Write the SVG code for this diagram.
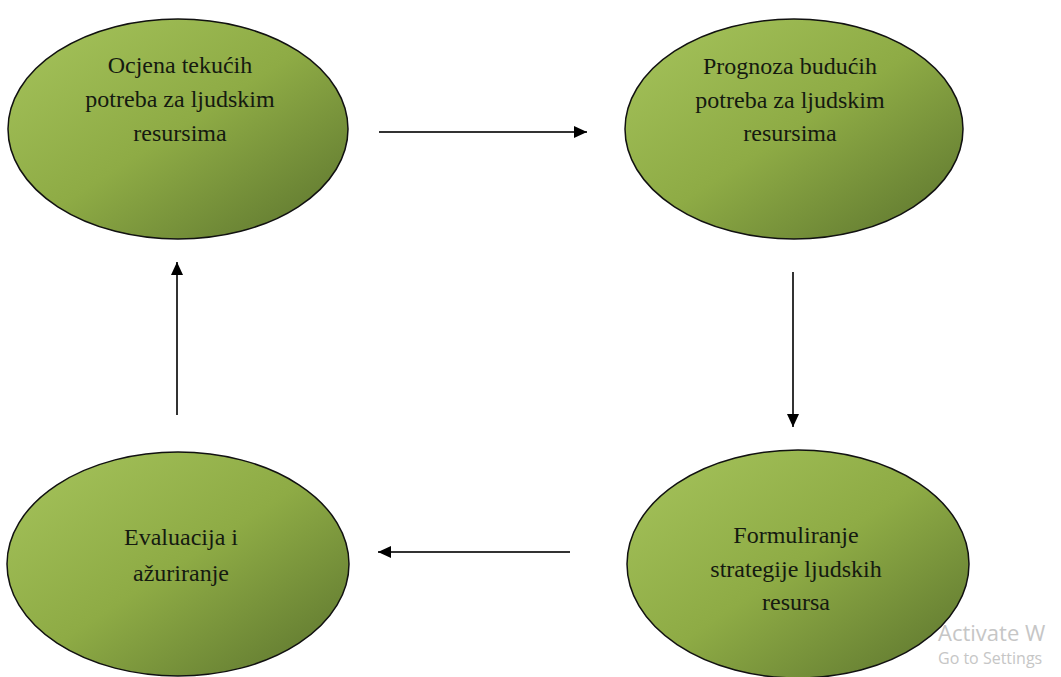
<svg xmlns="http://www.w3.org/2000/svg" width="1061" height="677" viewBox="0 0 1061 677">
<defs>
<linearGradient id="g" x1="0" y1="0" x2="1" y2="1">
<stop offset="0" stop-color="#a6c45c"/>
<stop offset="0.5" stop-color="#8eab45"/>
<stop offset="1" stop-color="#5a722d"/>
</linearGradient>
<marker id="ah" markerWidth="13" markerHeight="12" refX="13" refY="6" orient="auto" markerUnits="userSpaceOnUse">
<path d="M0,0 L13,6 L0,12 Z" fill="#000"/>
</marker>
<style>
.n{fill:url(#g);stroke:#111;stroke-width:1.5}
.t{font-family:"Liberation Serif","Times New Roman",serif;font-size:24px;fill:#151a10;text-anchor:middle}
.c{stroke:#333;stroke-width:2;fill:none;marker-end:url(#ah)}
.w{font-family:"Open Sans","Noto Sans",sans-serif;fill:#c6c6c6}
</style>
</defs>
<rect width="1061" height="677" fill="#fff"/>
<g id="connectors">
<line class="c" x1="379" y1="132" x2="587" y2="132"/>
<line class="c" x1="793" y1="272" x2="793" y2="427"/>
<line class="c" x1="570" y1="552" x2="378" y2="552"/>
<line class="c" x1="177" y1="415" x2="177" y2="262"/>
</g>
<g id="node1">
<ellipse class="n" cx="178" cy="129" rx="170" ry="110"/>
<text class="t" x="180" y="73">Ocjena tekućih</text>
<text class="t" x="180" y="107">potreba za ljudskim</text>
<text class="t" x="180" y="141">resursima</text>
</g>
<g id="node2">
<ellipse class="n" cx="794" cy="129" rx="169" ry="110"/>
<text class="t" x="790" y="74">Prognoza budućih</text>
<text class="t" x="790" y="108">potreba za ljudskim</text>
<text class="t" x="790" y="141">resursima</text>
</g>
<g id="node3">
<ellipse class="n" cx="178" cy="564" rx="171" ry="112"/>
<text class="t" x="181" y="545">Evaluacija i</text>
<text class="t" x="181" y="581">ažuriranje</text>
</g>
<g id="node4">
<ellipse class="n" cx="798" cy="564" rx="171" ry="114"/>
<text class="t" x="796" y="543">Formuliranje</text>
<text class="t" x="796" y="577">strategije ljudskih</text>
<text class="t" x="796" y="610">resursa</text>
</g>
<text class="w" x="938" y="641" font-size="22">Activate W</text>
<text class="w" x="938" y="664" font-size="16">Go to Settings</text>
</svg>
